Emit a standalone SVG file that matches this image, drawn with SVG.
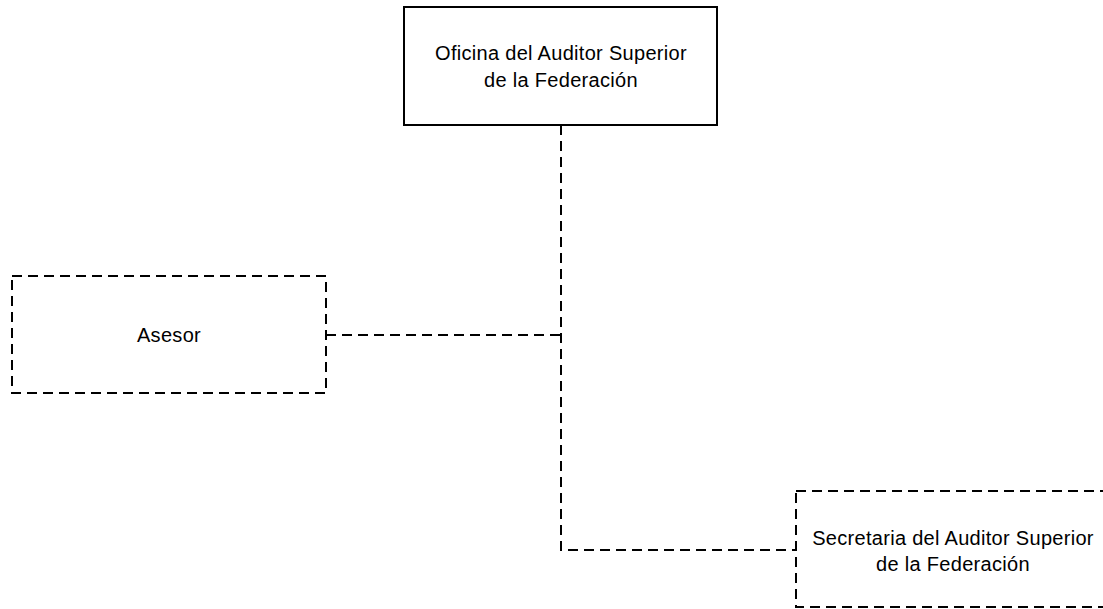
<svg xmlns="http://www.w3.org/2000/svg" width="1103" height="609" viewBox="0 0 1103 609">
<style>
.box{fill:#fff;stroke:#000;stroke-width:2}
.dash{stroke-dasharray:10 6}
.conn{fill:none;stroke:#000;stroke-width:2;stroke-dasharray:10 6}
text{font-family:"Liberation Sans",Arial,sans-serif;font-size:20px;letter-spacing:0.3px;fill:#000;text-anchor:middle}
</style>
<rect width="1103" height="609" fill="#fff"/>
<g id="connectors">
<path class="conn" d="M561,125 V550 H796"/>
<path class="conn" d="M326,335 H561"/>
</g>
<g id="oficina">
<rect class="box" x="404" y="7" width="313" height="118"/>
<text x="561" y="60">Oficina del Auditor Superior</text>
<text x="561" y="87">de la Federación</text>
</g>
<g id="asesor">
<rect class="box dash" x="12" y="276" width="314" height="117"/>
<text x="169" y="342">Asesor</text>
</g>
<g id="secretaria">
<rect class="box dash" x="796" y="491" width="314" height="116"/>
<text x="953" y="545">Secretaria del Auditor Superior</text>
<text x="953" y="571">de la Federación</text>
</g>
</svg>
